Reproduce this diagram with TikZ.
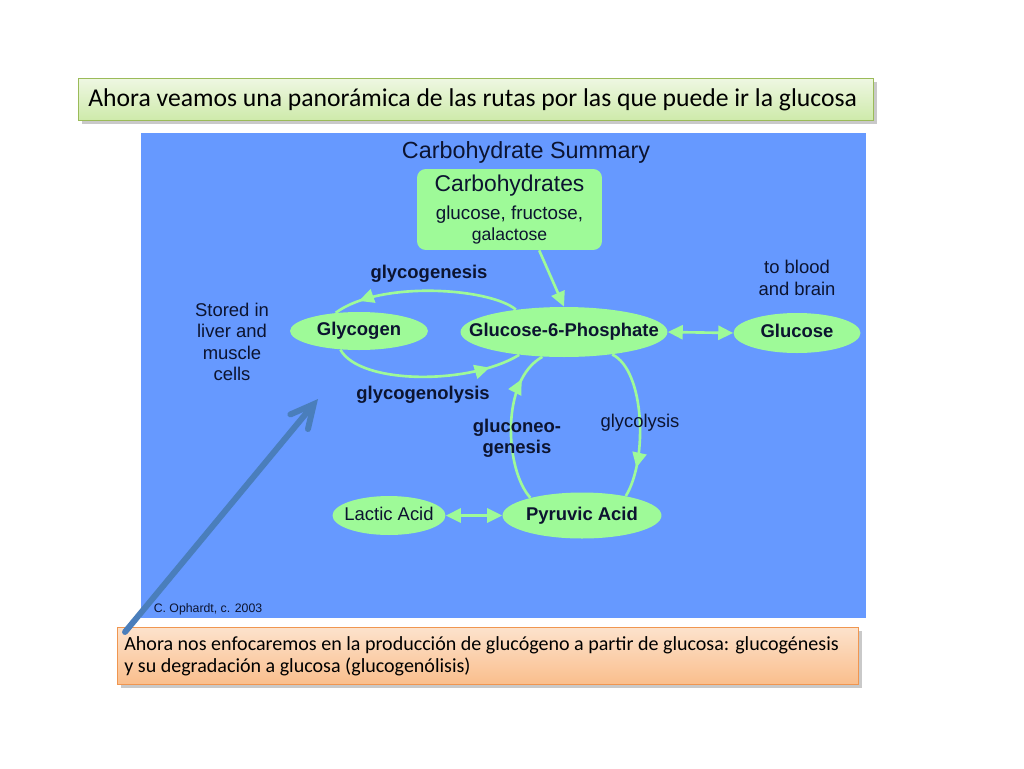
\documentclass[tikz,border=0pt]{standalone}
\usepackage{fontspec}
\setmainfont{Liberation Sans}
\newfontfamily\slidefont{Carlito}
\usetikzlibrary{arrows.meta,shapes.geometric,decorations.markings,shadows}
\definecolor{bgblue}{RGB}{102,153,255}
\definecolor{lgreen}{RGB}{158,250,152}
\definecolor{navy}{RGB}{12,20,48}
\definecolor{arrblue}{RGB}{74,126,187}
\definecolor{topA}{RGB}{238,247,226}
\definecolor{topB}{RGB}{206,234,170}
\definecolor{topBorder}{RGB}{155,187,89}
\definecolor{orA}{RGB}{252,226,204}
\definecolor{orB}{RGB}{250,190,140}
\definecolor{orBorder}{RGB}{240,150,80}
\begin{document}
\begin{tikzpicture}[x=0.02cm,y=-0.02cm,
  ell/.style={ellipse,fill=lgreen,inner sep=0pt},
  etext/.style={text=navy,inner sep=0pt,anchor=mid,font=\fontsize{10.5}{12}\selectfont\bfseries},
  lbl/.style={text=navy,align=center,inner sep=0pt,font=\fontsize{10.5}{12.2}\selectfont},
  blbl/.style={lbl,font=\fontsize{10.5}{12}\selectfont\bfseries},
  garrow/.style={draw=lgreen,line width=1.5pt},
  ghead/.style={-{Triangle[length=8.5pt,width=8pt]}},
  gboth/.style={{Triangle[length=8.5pt,width=8pt]}-{Triangle[length=8.5pt,width=8pt]}},
  midarrow/.style={postaction={decorate},decoration={markings,
    mark=at position #1 with {\arrow{Triangle[length=8.5pt,width=8pt]}}}},
  slidebox/.style={draw,line width=0.6pt,inner sep=0pt,anchor=north west,
    drop shadow={shadow xshift=2pt,shadow yshift=-2pt,opacity=0.35,fill=black!60}}
]
\useasboundingbox[fill=white] (0,0) rectangle (1024,768);
% blue panel
\fill[bgblue] (141,133) rectangle (866,618);

% top slide box
\node[slidebox,draw=topBorder,top color=topA,bottom color=topB,
  minimum width=15.9cm,minimum height=0.84cm] (topbox) at (78,78) {};
\node[anchor=west,inner sep=0pt,font=\slidefont\fontsize{14.6}{17}\selectfont]
  (toptext) at (88,100) {Ahora veamos una panorámica de las rutas por las que puede ir la glucosa};

% title
\node[lbl,font=\fontsize{13.3}{15}\selectfont] (title) at (526,152) {Carbohydrate Summary};

% carbohydrates box
\node[fill=lgreen,rounded corners=5pt,minimum width=3.7cm,minimum height=1.62cm,
  inner sep=0pt,align=center,text=navy] (carb) at (509.5,209.5)
  {\fontsize{13}{15}\selectfont Carbohydrates\\[4pt]
   \fontsize{10.7}{12}\selectfont glucose, fructose,\\ galactose};

% ellipses
\node[ell,minimum width=2.76cm,minimum height=0.76cm] (glycogen) at (359,331) {};
\node[ell,minimum width=4.14cm,minimum height=1.0cm] (g6p) at (564,332) {};
\node[ell,minimum width=2.54cm,minimum height=0.8cm] (glucose) at (797,333) {};
\node[ell,minimum width=2.26cm,minimum height=0.78cm] (lactic) at (389,515.5) {};
\node[ell,minimum width=3.18cm,minimum height=0.92cm] (pyruvic) at (582,515.5) {};

% connectors
\draw[garrow,ghead] (carb.306.6) -- (g6p.north);
\draw[garrow,midarrow=0.86] (g6p.155) .. controls (490,288) and (380,280) .. (glycogen.142);
\draw[garrow,midarrow=0.83] (glycogen.225) .. controls (360,385) and (470,385) .. (g6p.207);
\draw[garrow,gboth] (g6p.east) -- (glucose.west);
\draw[garrow,midarrow=0.8] (g6p.335) .. controls (645,370) and (648,460) .. (pyruvic.24);
\draw[garrow,midarrow=0.8] (pyruvic.161) .. controls (505,470) and (500,380) .. (g6p.229);
\draw[garrow,gboth] (lactic.east) -- (pyruvic.west);

% ellipse texts
\node[etext] (tglycogen) at (glycogen) {Glycogen};
\node[etext] (tg6p) at (g6p) {Glucose-6-Phosphate};
\node[etext] (tglucose) at (glucose) {Glucose};
\node[etext,font=\fontsize{10.5}{12}\selectfont] (tlactic) at (lactic) {Lactic Acid};
\node[etext] (tpyruvic) at (pyruvic) {Pyruvic Acid};

% labels
\node[blbl] (lgenesis) at (429,274) {glycogenesis};
\node[blbl] (lgenolysis) at (423,395) {glycogenolysis};
\node[blbl] (lneo) at (517,438) {gluconeo-\\genesis};
\node[lbl] (lstored) at (232,342) {Stored in\\liver and\\muscle\\cells};
\node[lbl] (lblood) at (797,278) {to blood\\and brain};
\node[lbl] (lglyco) at (640,423) {glycolysis};
\node[lbl,font=\fontsize{7}{8}\selectfont] (credit) at (208,609) {C. Ophardt, c. 2003};

% orange box
\node[slidebox,draw=orBorder,top color=orA,bottom color=orB,
  minimum width=14.82cm,minimum height=1.14cm] (orbox) at (117,627) {};
\node[anchor=north west,inner sep=0pt,align=left,
  font=\slidefont\fontsize{11.4}{12.6}\selectfont] (ortext) at (124,636)
  {Ahora nos enfocaremos en la producción de glucógeno a partir de glucosa: glucogénesis\\
   y su degradación a glucosa (glucogenólisis)};

% blue pointer arrow
\coordinate (ptr) at (318,399);
\draw[arrblue,line width=3.4pt,line cap=round,
  -{Straight Barb[length=13pt,width=13pt,line cap=round]}] (orbox.north west) ++(8,5) -- (ptr);
\end{tikzpicture}
\end{document}
